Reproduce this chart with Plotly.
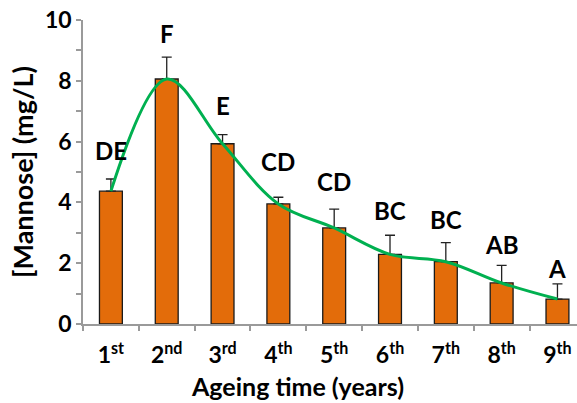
import plotly.graph_objects as go

categories = ["1st", "2nd", "3rd", "4th", "5th", "6th", "7th", "8th", "9th"]
tick_labels = ["1<sup>st</sup>", "2<sup>nd</sup>", "3<sup>rd</sup>", "4<sup>th</sup>", "5<sup>th</sup>",
               "6<sup>th</sup>", "7<sup>th</sup>", "8<sup>th</sup>", "9<sup>th</sup>"]
mannose = [4.37, 8.06, 5.93, 3.95, 3.16, 2.29, 2.05, 1.35, 0.82]
error_plus = [0.40, 0.72, 0.30, 0.22, 0.62, 0.63, 0.63, 0.58, 0.50]
letters = ["DE", "F", "E", "CD", "CD", "BC", "BC", "AB", "A"]
letter_y = [5.72, 9.54, 7.2, 5.33, 4.70, 3.75, 3.45, 2.63, 1.84]
y_ticks = list(range(0, 11))
y_ticktext = [str(v) if v % 2 == 0 else "" for v in y_ticks]

FONT = "Lato"
W = "bold"

fig = go.Figure()
fig.add_trace(go.Bar(
    x=categories, y=mannose, width=0.41,
    marker=dict(color="#E36C0A", line=dict(color="#1a1a1a", width=1.3)),
    error_y=dict(type="data", array=error_plus, arrayminus=[0] * len(error_plus),
                 symmetric=False, color="#222222", thickness=1.3, width=5),
    showlegend=False,
))
fig.add_trace(go.Scatter(
    x=categories, y=mannose, mode="lines",
    line=dict(color="#00B050", width=3, shape="spline", smoothing=1.0),
    showlegend=False,
))

for c, t, yy in zip(categories, letters, letter_y):
    fig.add_annotation(x=c, y=yy, text=t, showarrow=False, xref="x", yref="y",
                       font=dict(family=FONT, size=24, color="black", weight=W),
                       yanchor="middle", xanchor="center")

fig.add_annotation(x=(297 - 83) / (577 - 83), y=-(386 - 324) / (324 - 20),
                   xref="paper", yref="paper", text="Ageing time (years)",
                   showarrow=False, xanchor="center", yanchor="middle",
                   font=dict(family=FONT, size=25, color="black", weight=W))

fig.update_layout(
    width=577, height=403,
    margin=dict(l=83, r=0, t=20, b=79),
    plot_bgcolor="white", paper_bgcolor="white",
    font=dict(family=FONT, color="black"),
    xaxis=dict(
        type="category", range=[-0.5, 8.35],
        tickmode="array", tickvals=categories, ticktext=tick_labels,
        showline=True, linecolor="#9a9a9a", linewidth=1.5,
        ticks="outside", tickson="boundaries", ticklen=5, tickcolor="#9a9a9a", tickwidth=1.5,
        ticklabelstandoff=10,
        tickfont=dict(family=FONT, size=23, color="black", weight=W),
        showgrid=False, zeroline=False,
    ),
    yaxis=dict(
        range=[0, 10], tickmode="array", tickvals=y_ticks, ticktext=y_ticktext,
        showline=True, linecolor="#9a9a9a", linewidth=1.5,
        ticks="outside", ticklen=5, tickcolor="#9a9a9a", tickwidth=1.5,
        tickfont=dict(family=FONT, size=23, color="black", weight=W),
        showgrid=False, zeroline=False,
        title=dict(text="[Mannose] (mg/L)", standoff=4,
                   font=dict(family=FONT, size=27, color="black", weight=W)),
    ),
)

fig.write_html("out.html")
